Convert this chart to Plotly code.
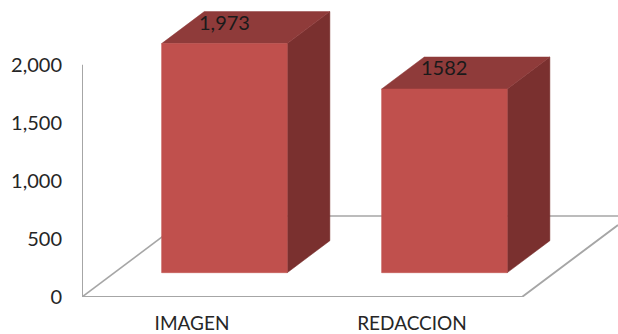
import plotly.graph_objects as go

categories = ["IMAGEN", "REDACCION"]
values = [1973, 1582]
value_labels = ["1,973", "1582"]
y_ticks = [0, 500, 1000, 1500, 2000]
y_axis_top = 2000

# Oblique projection of the 3D column chart, in axis units
DEPTH_X = 0.491    # category units for the full floor depth
DEPTH_Y = 698      # value units for the full floor depth
BAR_HALF = 0.2855
BAR_D0, BAR_D1 = 0.30, 0.695

FRONT = "#C0504D"
TOP = "#8F3B3A"
SIDE = "#7A302F"
GRID = "#A6A6A6"


def project(x, v, d):
    return x + d * DEPTH_X, v + d * DEPTH_Y


def poly(points, color):
    xs, ys = zip(*[project(*p) for p in points])
    return go.Scatter(
        x=list(xs) + [xs[0]], y=list(ys) + [ys[0]], mode="lines", fill="toself",
        fillcolor=color, line=dict(color=color, width=0.5),
        hoverinfo="skip", showlegend=False,
    )


def edge(points, width=1.6):
    xs, ys = zip(*[project(*p) for p in points])
    return go.Scatter(
        x=list(xs), y=list(ys), mode="lines", line=dict(color=GRID, width=width),
        hoverinfo="skip", showlegend=False, cliponaxis=False,
    )


x_left, x_right = -0.5, len(categories) - 0.5
x_max = (618 - 192) / 220
fig = go.Figure()

# Floor outline: back edge, left edge, front edge, right edge, then the value axis
fig.add_trace(edge([(x_left, 0, 1), (x_max - DEPTH_X, 0, 1)]))
fig.add_trace(edge([(x_left, 0, 0), (x_left, 0, 1)]))
fig.add_trace(edge([(x_left, 0, 0), (x_right, 0, 0), (x_right, 0, (x_max - x_right) / DEPTH_X)], width=1.9))
fig.add_trace(edge([(x_left, 0, 0), (x_left, y_axis_top, 0)], width=2))

annotations = []
for i, (v, label) in enumerate(zip(values, value_labels)):
    a, b = i - BAR_HALF, i + BAR_HALF
    fig.add_trace(poly([(b, 0, BAR_D0), (b, 0, BAR_D1), (b, v, BAR_D1), (b, v, BAR_D0)], SIDE))
    fig.add_trace(poly([(a, v, BAR_D0), (a, v, BAR_D1), (b, v, BAR_D1), (b, v, BAR_D0)], TOP))
    fig.add_trace(poly([(a, 0, BAR_D0), (b, 0, BAR_D0), (b, v, BAR_D0), (a, v, BAR_D0)], FRONT))
    tx, ty = project(i, v, BAR_D0)
    annotations.append(dict(
        x=tx, y=ty, xref="x", yref="y", text=label, showarrow=False, yshift=22,
        font=dict(family="Lato", size=20, color="#1a1a1a"),
    ))

fig.update_layout(
    width=618, height=334,
    margin=dict(l=82, r=0, t=0, b=37.3, pad=0),
    paper_bgcolor="white", plot_bgcolor="white",
    showlegend=False,
    annotations=annotations,
    xaxis=dict(
        range=[x_left, x_max], automargin=False,
        tickmode="array", tickvals=list(range(len(categories))), ticktext=categories,
        showgrid=False, zeroline=False, showline=False, ticks="",
        ticklabelstandoff=13,
        tickfont=dict(family="Lato", size=19, color="#262626"),
    ),
    yaxis=dict(
        range=[0, 2558], automargin=False,
        tickmode="array", tickvals=y_ticks, tickformat=",",
        showgrid=False, zeroline=False, showline=False,
        ticks="", ticklabelstandoff=19,
        tickfont=dict(family="Lato", size=20, color="#262626"),
    ),
)

fig.write_html(
    "out.html",
    config=dict(displayModeBar=False),
    post_script="document.body.style.margin='0';document.body.style.overflow='hidden';",
)
